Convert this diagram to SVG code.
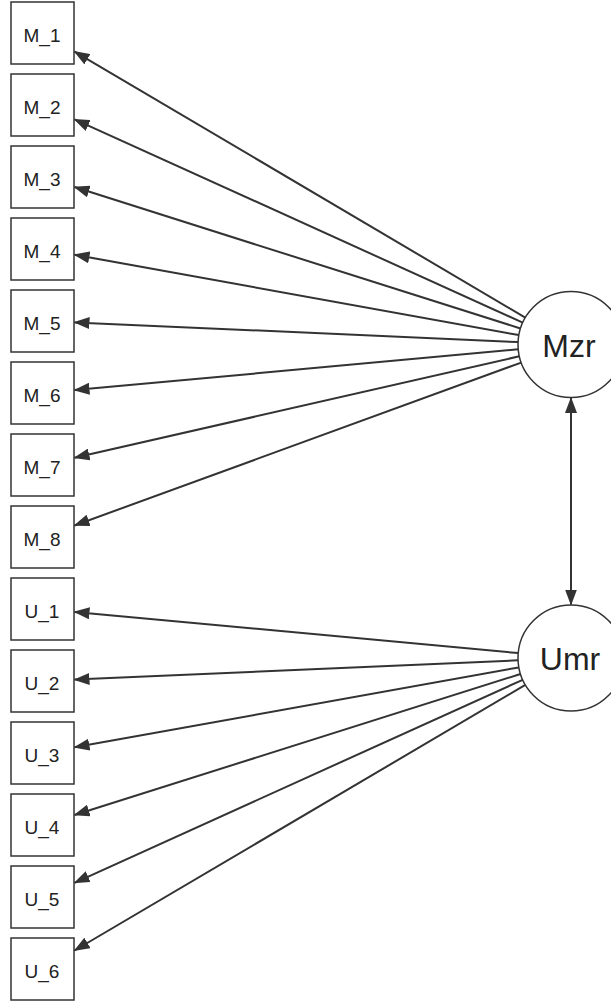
<svg xmlns="http://www.w3.org/2000/svg" width="611" height="1002" viewBox="0 0 611 1002">
  <style>
    .box { fill: #ffffff; stroke: #333333; stroke-width: 1.5; }
    .lat { fill: #ffffff; stroke: #333333; stroke-width: 1.5; }
    .lbl { font-family: "Liberation Sans", Arial, sans-serif; font-size: 19px; fill: #222222; text-anchor: middle; }
    .big { font-family: "Liberation Sans", Arial, sans-serif; font-size: 32px; fill: #222222; text-anchor: middle; }
    .edge { stroke: #333333; stroke-width: 2; fill: none; marker-end: url(#arrow); }
    .cov { stroke: #333333; stroke-width: 2; fill: none; marker-end: url(#arrow); marker-start: url(#arrow); }
  </style>
  <defs>
    <marker id="arrow" markerUnits="userSpaceOnUse" markerWidth="16" markerHeight="12" viewBox="0 0 16 12" refX="15" refY="6" orient="auto-start-reverse">
      <path d="M0,0 L16,6 L0,12 z" fill="#333333"/>
    </marker>
  </defs>

  <!-- connectors: loadings from the two latent factors, plus the factor covariance -->
  <g id="connectors">
    <line class="edge" x1="525.3" y1="317.6" x2="74.5" y2="51.6"/>
    <line class="edge" x1="522.7" y1="322.6" x2="74.5" y2="119.3"/>
    <line class="edge" x1="520.5" y1="328.5" x2="74.5" y2="187.0"/>
    <line class="edge" x1="518.8" y1="335.1" x2="74.5" y2="254.7"/>
    <line class="edge" x1="518.1" y1="342.1" x2="74.5" y2="322.4"/>
    <line class="edge" x1="518.2" y1="349.3" x2="74.5" y2="390.1"/>
    <line class="edge" x1="519.3" y1="356.3" x2="74.5" y2="457.8"/>
    <line class="edge" x1="521.2" y1="362.6" x2="74.5" y2="525.5"/>

    <line class="edge" x1="518.2" y1="653.1" x2="74.5" y2="611.9"/>
    <line class="edge" x1="518.0" y1="660.3" x2="74.5" y2="679.6"/>
    <line class="edge" x1="518.8" y1="667.4" x2="74.5" y2="747.3"/>
    <line class="edge" x1="520.5" y1="674.0" x2="74.5" y2="815.0"/>
    <line class="edge" x1="522.7" y1="679.8" x2="74.5" y2="882.8"/>
    <line class="edge" x1="525.3" y1="684.9" x2="74.5" y2="950.5"/>

    <line class="cov" x1="571" y1="398" x2="571" y2="604.5"/>
  </g>

  <!-- observed indicators -->
  <g id="M_1"><rect class="box" x="11" y="2" width="63" height="62"/><text class="lbl" x="42" y="42">M_1</text></g>
  <g id="M_2"><rect class="box" x="11" y="74" width="63" height="62"/><text class="lbl" x="42" y="114">M_2</text></g>
  <g id="M_3"><rect class="box" x="11" y="146" width="63" height="62"/><text class="lbl" x="42" y="186">M_3</text></g>
  <g id="M_4"><rect class="box" x="11" y="218" width="63" height="62"/><text class="lbl" x="42" y="258">M_4</text></g>
  <g id="M_5"><rect class="box" x="11" y="290" width="63" height="62"/><text class="lbl" x="42" y="330">M_5</text></g>
  <g id="M_6"><rect class="box" x="11" y="362" width="63" height="62"/><text class="lbl" x="42" y="402">M_6</text></g>
  <g id="M_7"><rect class="box" x="11" y="434" width="63" height="62"/><text class="lbl" x="42" y="474">M_7</text></g>
  <g id="M_8"><rect class="box" x="11" y="506" width="63" height="62"/><text class="lbl" x="42" y="546">M_8</text></g>
  <g id="U_1"><rect class="box" x="11" y="578" width="63" height="62"/><text class="lbl" x="42" y="618">U_1</text></g>
  <g id="U_2"><rect class="box" x="11" y="650" width="63" height="62"/><text class="lbl" x="42" y="690">U_2</text></g>
  <g id="U_3"><rect class="box" x="11" y="722" width="63" height="62"/><text class="lbl" x="42" y="762">U_3</text></g>
  <g id="U_4"><rect class="box" x="11" y="794" width="63" height="62"/><text class="lbl" x="42" y="834">U_4</text></g>
  <g id="U_5"><rect class="box" x="11" y="866" width="63" height="62"/><text class="lbl" x="42" y="906">U_5</text></g>
  <g id="U_6"><rect class="box" x="11" y="938" width="63" height="62"/><text class="lbl" x="42" y="978">U_6</text></g>

  <!-- latent factors -->
  <g id="Mzr"><circle class="lat" cx="571" cy="344.5" r="53"/><text class="big" x="569" y="357">Mzr</text></g>
  <g id="Umr"><circle class="lat" cx="571" cy="658" r="53"/><text class="big" x="570" y="669.5">Umr</text></g>
</svg>
